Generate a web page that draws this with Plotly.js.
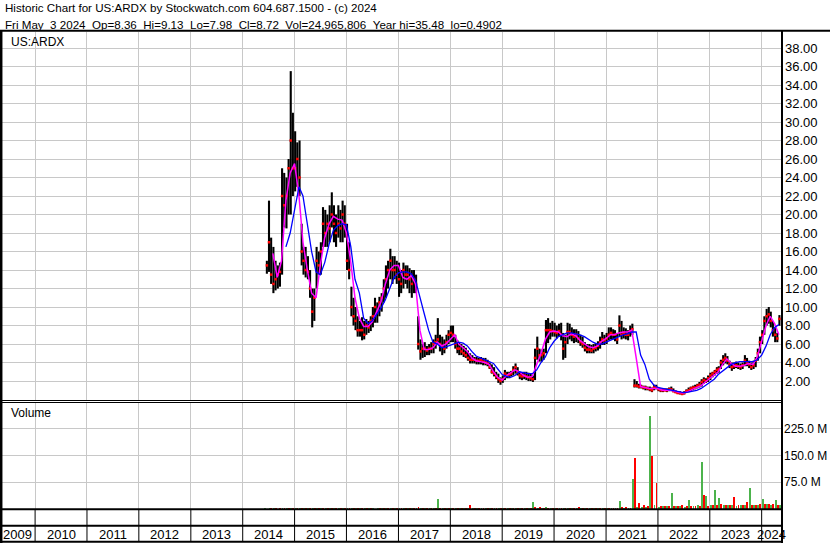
<!DOCTYPE html>
<html><head><meta charset="utf-8">
<script src="https://cdn.plot.ly/plotly-3.0.1.min.js"></script>
<style>html,body{margin:0;padding:0;background:#fff;}#chart{width:830px;height:543px;}</style>
</head><body><div id="chart"></div>
<script>
// ---------- text ----------
const symbol = 'US:ARDX';
const titleLine1 = 'Historic Chart for US:ARDX by Stockwatch.com 604.687.1500 - (c) 2024';
const titleParts = ['Fri May', '3 2024', 'Op=8.36', 'Hi=9.13', 'Lo=7.98', 'Cl=8.72', 'Vol=24,965,806', 'Year hi=35.48', 'lo=0.4902'];
const years = [2009,2010,2011,2012,2013,2014,2015,2016,2017,2018,2019,2020,2021,2022,2023,2024];
const priceTicks = [2,4,6,8,10,12,14,16,18,20,22,24,26,28,30,32,34,36,38];
const volTicks = [75,150,225];
const volTickText = ['75.0 M','150.0 M','225.0 M'];

// ---------- price, half-monthly from 2nd half of June 2014 ----------
const firstHalfMonth = {year: 2014, month: 6, half: 2};
const priceHigh = [
  15.0,21.5,17.5,16.5,15.0,14.5,14.8,25.0,24.5,24.0,26.0,35.5,31.0,
  29,27.8,28,19,16.5,16.5,15.5,14,12,12,16.5,16,17,20.8,20.5,20,21,22.4,21,20,21,20.5,21.5,21,
  19,17,12.2,11,10,9,8.5,8.9,8.5,8.7,8.5,9.0,10,11,10.5,11.1,11.5,13,14.5,15,16.3,15.5,15.5,15,
  14.8,14,14.8,14.5,14.5,14.2,14,14,13.5,9,6.5,6.0,6.2,5.8,6.0,6.2,6.5,7.0,8.8,7.0,6.8,6.5,7.0,7.5,
  8.0,8.0,7.0,6.4,6.2,6.0,5.8,5.6,5.3,5.0,4.8,4.6,4.6,4.5,4.6,4.5,4.5,4.3,4.0,3.8,3.5,3.0,2.8,2.4,
  2.6,3.2,3.0,3.0,3.1,3.6,3.9,3.5,3.0,2.9,3.0,3.0,2.9,2.8,2.6,5.5,6.8,5.5,5.4,5.5,8.6,8.8,8.3,8.5,
  8.3,8.0,8.2,8.3,7.2,7.0,8.3,8.2,7.8,7.6,7.6,7.4,7.0,6.8,6.2,6.0,6.0,5.9,6.0,6.1,6.3,6.8,7.3,7.0,
  7.2,7.8,7.8,7.6,7.5,7.2,9.1,8.5,7.8,7.7,7.5,8.0,8.2,2.2,2.0,1.7,1.6,1.5,1.5,1.4,1.4,1.3,1.6,1.6,
  1.3,1.2,1.2,1.2,1.2,1.3,1.4,1.2,1.0,0.9,0.9,0.8,0.9,1.1,1.3,1.4,1.5,1.6,1.7,1.9,2.2,2.4,2.3,2.6,
  2.9,3.0,3.2,3.5,3.6,4.3,4.8,5.0,4.7,4.2,4.0,4.0,4.1,4.0,3.9,4.0,4.8,4.5,4.2,4.0,4.2,4.6,5.5,6.8,
  7.5,9.0,9.8,10.0,9.5,8.5,7.8,7.2,9.13
];
const priceLow = [
  13.6,13.8,12.5,11.5,11.8,12.0,12.2,13.5,18.6,18.5,20.0,20.0,22.0,
  22.5,23,22,14.5,13.5,13.2,13,11,7.8,8.5,12,13.5,13.5,16.5,16.5,16.5,17,18.6,17,16.5,17.5,17,17,17.5,
  14,13,9,8,7.5,6.8,6.8,6.4,6.5,7.0,7.2,7.4,7.8,8.3,8.3,9,9.5,10.5,11,12,13,12.5,13,12.5,
  11.1,11.5,12,12.5,12,11.5,11,11.5,11.5,5.4,4.3,4.5,4.6,4.8,4.8,5.0,5.0,5.5,6.0,5.2,4.8,5.0,5.5,6.0,
  6.2,6.2,5.5,5.0,4.8,4.8,4.6,4.5,4.2,3.9,3.9,3.9,3.8,3.8,3.8,3.7,3.7,3.6,3.3,2.8,2.5,2.2,1.8,1.6,
  1.8,2.1,2.3,2.3,2.5,2.6,2.8,2.6,2.2,2.1,2.2,2.1,2.0,2.0,1.9,2.1,4.3,4.1,4.1,4.3,5.0,6.1,6.5,6.8,
  6.8,6.6,6.8,6.4,4.3,4.5,6.0,6.5,6.3,6.1,6.2,6.1,5.8,5.6,5.2,5.0,5.0,5.0,5.0,5.2,5.3,5.5,5.9,5.9,
  6.0,6.4,6.5,6.5,6.3,6.0,6.8,6.5,6.6,6.5,6.4,6.8,7.0,1.3,1.3,1.2,1.2,1.1,1.0,1.0,0.9,0.8,1.0,1.1,
  0.9,0.8,0.8,0.9,0.8,0.9,0.9,0.8,0.7,0.6,0.55,0.49,0.55,0.7,0.8,0.9,1.0,1.1,1.2,1.3,1.4,1.7,1.8,1.9,
  2.1,2.4,2.6,2.8,2.9,3.3,3.7,3.9,3.8,3.4,3.1,3.3,3.4,3.3,3.2,3.3,3.6,3.6,3.4,3.2,3.3,3.5,4.2,5.0,
  6.0,7.0,8.0,8.2,7.8,6.8,6.2,6.2,7.98
];
const priceClose = [
  14.5,17.0,13.5,12.5,13.0,13.5,13.8,22.0,21.0,22.0,25.0,28.0,25.0,
  25,26,24,16,15,14,13.8,12,9.5,11,15,14.5,16,19,18,19,18.5,20,19,18,19,18.5,20,19,
  15,14,10,9,8.5,7.5,7.5,7.5,7.0,8,7.8,8.5,9,10,9.5,10.5,11,12,13,14,15,14,14,13.5,
  13,12.5,14,13.5,13.5,13,12.5,13,12.5,6.0,5.2,5.5,5.5,5.3,5.5,5.5,6,6.2,6.5,6,5.8,5.5,6.2,7.0,
  7.2,7.0,6.0,5.5,5.5,5.2,5.0,4.8,4.5,4.3,4.3,4.3,4.2,4.2,4.3,4.1,4.0,3.9,3.5,3.0,2.8,2.5,2.2,2.0,
  2.2,2.8,2.6,2.7,2.8,3.2,3.5,3.0,2.6,2.5,2.6,2.5,2.4,2.3,2.2,4.5,5.5,4.8,4.8,5.0,7.5,7.5,7.5,7.4,
  7.3,7.2,7.4,7.0,5.5,6.2,7.3,7.3,7.0,6.8,7.0,6.6,6.2,6.0,5.6,5.4,5.4,5.3,5.5,5.6,5.8,6.2,6.5,6.4,
  6.6,7.0,7.2,7.0,7.0,6.5,8.0,7.0,7.2,7.0,7.0,7.4,7.6,1.5,1.5,1.4,1.4,1.3,1.3,1.2,1.1,1.0,1.3,1.3,
  1.1,1.0,1.0,1.0,1.0,1.1,1.1,0.9,0.8,0.7,0.7,0.6,0.7,0.9,1.0,1.2,1.3,1.3,1.5,1.6,1.9,2.1,2.0,2.3,
  2.6,2.8,3.0,3.2,3.3,4.0,4.3,4.5,4.2,3.8,3.5,3.6,3.7,3.6,3.5,3.7,4.2,4.0,3.8,3.5,3.7,4.2,5.0,6.2,
  7.0,8.5,9.0,9.2,8.5,7.5,7.0,6.6,8.72
];

// ---------- moving averages & volume, monthly from June 2014 ----------
const firstMonth = {year: 2014, month: 6};
const maShort = [
  null,null,15.8,13.2,15.0,21.5,24.5,
  25.5,22.0,17.0,14.0,11.5,11.0,14.5,17.5,19.0,19.8,19.5,19.4,
  18.0,14.8,11.0,8.8,7.9,7.9,8.4,9.5,10.6,12.5,14.0,14.5,
  14.5,13.2,13.0,13.4,12.5,7.5,5.4,5.4,5.6,6.2,5.8,6.0,
  6.5,7.0,6.0,5.6,5.2,4.5,4.2,4.1,4.0,3.8,3.0,2.4,
  2.1,2.6,2.9,3.2,3.0,2.6,2.4,2.5,3.8,5.0,6.5,7.3,
  7.4,7.3,6.9,6.8,7.1,6.9,6.4,6.0,5.7,5.6,5.8,6.3,
  6.6,7.0,7.0,7.2,7.3,7.3,7.5,4.5,1.4,1.3,1.2,1.2,
  1.2,1.0,1.0,1.0,0.9,0.75,0.7,0.85,1.1,1.3,1.5,1.9,
  2.3,2.7,3.0,3.8,4.4,3.9,3.6,3.6,3.7,3.9,3.8,4.6,
  6.2,8.0,9.0,8.2,7.0
];
const maLong = [
  null,null,null,null,null,16.5,18.0,
  20.5,23.0,22.0,19.0,16.0,13.8,13.5,14.8,16.8,18.3,18.8,19.0,
  18.9,16.5,13.0,11.5,8.8,8.2,8.5,9.2,9.9,10.8,12.0,13.2,
  13.7,13.8,13.8,13.6,12.9,11.2,9.3,7.5,6.2,6.0,5.6,5.7,
  5.9,6.1,6.2,6.1,5.8,5.2,4.7,4.5,4.3,4.1,3.9,3.3,
  2.7,2.5,2.4,2.6,3.0,2.9,2.8,2.8,3.2,4.0,4.6,5.6,
  6.3,6.8,7.0,7.2,7.2,7.1,7.0,6.8,6.5,6.2,6.0,6.0,
  6.2,6.4,6.6,6.8,7.0,7.1,7.3,7.3,4.8,3.8,2.2,1.6,
  1.3,1.2,1.1,1.0,0.95,0.85,0.75,0.8,0.9,1.0,1.2,1.5,
  1.8,2.2,2.7,3.1,3.5,3.8,4.0,4.1,4.1,4.1,4.1,4.3,
  4.8,5.8,7.0,7.8,8.1
];
// volume in millions (up days green, down days red)
const volUp = [
  1.5,3,1.5,1,2.5,2,4,
  3,2,2,2,2,1.5,2,2,1.5,2,1.5,1.5,
  2,2,1.5,2,1.5,1.5,1.5,1.5,2,2,2,1.5,
  1.5,1.5,1.5,1.5,1.5,2,1.5,1.5,2,28,2,1.5,
  2,1.5,1.5,1.5,1.5,1.5,1.5,1.5,1.5,1.5,2,1.5,
  2,2,2,2,1.5,1.5,1.5,20,3,2,6,3,
  2,2,3,2.5,2,2,2,2,2,2,2,2,
  3,3,3,22,4,4,84,6,5,6,260,10,
  6,8,7,45,8,8,6,25,8,10,131,36,
  10,53,30,12,10,10,9,12,12,58,10,12,
  28,14,12,25,12
];
const volDown = [
  1,2.5,2,1.5,2,3,3,
  2.5,3,2,2,3,1.5,1.5,2,2,2,1.5,2,
  3,3,2,1.5,2,1.5,1,1.5,1.5,2,2,2,
  2,1.5,1.5,2,6,3,2,1.5,1.5,4,2,1.5,
  2,1.5,1.5,1.5,11,1.5,1.5,1.5,2,2,2,2.5,
  2.5,2,2,1.5,2,2,2,6,5,2,2,3,
  2,2.5,3.5,2.5,2,5,2,2,2,2,2.5,2,
  4,4,3.5,6,5,4,142,17,10,8,148,72,
  8,7,8,7,8,10,8,8,7,8,39,8,
  10,12,14,12,10,33,12,10,20,12,10,14,
  14,15,14,12,8
];

// ---------- helpers ----------
const pad = n => String(n).padStart(2, '0');
function halfMonthDates(start, n) {
  let y = start.year, m = start.month, h = start.half;
  const out = [];
  for (let i = 0; i < n; i++) {
    out.push(`${y}-${pad(m)}-${h === 1 ? '05' : '20'}`);
    if (h === 1) { h = 2; } else { h = 1; m++; if (m > 12) { m = 1; y++; } }
  }
  return out;
}
function monthDates(start, n, day) {
  let y = start.year, m = start.month;
  const out = [];
  for (let i = 0; i < n; i++) {
    out.push(`${y}-${pad(m)}-${pad(day)}`);
    m++; if (m > 12) { m = 1; y++; }
  }
  return out;
}
const W = 830, H = 543;
const px = x => x / W;
const py = y => 1 - y / H;

const priceDates = halfMonthDates(firstHalfMonth, priceHigh.length);
const maDates = monthDates(firstMonth, maShort.length, 1);
const volUpDates = monthDates(firstMonth, volUp.length, 8);
const volDownDates = monthDates(firstMonth, volDown.length, 22);

// high-low bars as vertical segments
const segX = [], segY = [];
priceDates.forEach((d, i) => { segX.push(d, d, null); segY.push(priceLow[i], priceHigh[i], null); });

const DAY = 86400000;
const traces = [
  {type:'scatter', mode:'lines', x:segX, y:segY, line:{color:'#000', width:2.1}, xaxis:'x', yaxis:'y', hoverinfo:'skip'},
  {type:'scatter', mode:'markers', x:priceDates, y:priceClose, marker:{symbol:'square', size:2.5, color:'#ff0000'}, xaxis:'x', yaxis:'y', hoverinfo:'skip'},
  {type:'scatter', mode:'lines', x:maDates, y:maShort, line:{color:'#ff00ff', width:1.5}, xaxis:'x', yaxis:'y', hoverinfo:'skip'},
  {type:'scatter', mode:'lines', x:maDates, y:maLong, line:{color:'#0000ff', width:1.3}, xaxis:'x', yaxis:'y', hoverinfo:'skip'},
  {type:'bar', x:volUpDates, y:volUp, width:13*DAY, marker:{color:'#4cb34c', line:{width:0}}, xaxis:'x', yaxis:'y2', hoverinfo:'skip'},
  {type:'bar', x:volDownDates, y:volDown, width:13*DAY, marker:{color:'#ff0000', line:{width:0}}, xaxis:'x', yaxis:'y2', hoverinfo:'skip'}
];

const rangeStart = '2009-04-29', rangeEnd = '2024-05-16';
const font = '"Liberation Sans", Arial, sans-serif';

const annotations = [
  {xref:'paper', yref:'paper', x:px(3), y:py(8), xanchor:'left', yanchor:'middle', showarrow:false, text:titleLine1, font:{size:11.6}},
  {xref:'paper', yref:'paper', x:px(3), y:py(24), xanchor:'left', yanchor:'middle', showarrow:false, text:titleParts.join('\u00a0\u00a0'), font:{size:11.6}},
  {xref:'paper', yref:'paper', x:px(9), y:py(42), xanchor:'left', yanchor:'middle', showarrow:false, text:symbol, font:{size:12}},
  {xref:'paper', yref:'paper', x:px(9), y:py(413), xanchor:'left', yanchor:'middle', showarrow:false, text:'Volume', font:{size:12}}
];
years.forEach(yr => {
  const a = Math.max(Date.parse(yr + '-01-01'), Date.parse(rangeStart));
  const b = Math.min(Date.parse((yr + 1) + '-01-01'), Date.parse(rangeEnd));
  const mid = new Date((a + b) / 2).toISOString().slice(0, 19).replace('T', ' ');
  annotations.push({xref:'x', yref:'paper', x:mid, y:py(534), xanchor:'center', yanchor:'middle', showarrow:false, text:String(yr), font:{size:13}});
});

const black = {color:'#000', width:2};
const thin = {color:'#000', width:1};
const shapes = [
  {type:'line', xref:'paper', yref:'paper', x0:0, x1:1, y0:py(30.7), y1:py(30.7), line:black},
  {type:'line', xref:'paper', yref:'paper', x0:px(1.2), x1:px(1.2), y0:py(30), y1:0, line:{color:'#000', width:2.5}},
  {type:'line', xref:'paper', yref:'paper', x0:px(782), x1:px(782), y0:py(30), y1:0, line:black},
  {type:'line', xref:'paper', yref:'paper', x0:0, x1:px(782), y0:py(400.5), y1:py(400.5), line:thin},
  {type:'line', xref:'paper', yref:'paper', x0:0, x1:px(782), y0:py(402.5), y1:py(402.5), line:thin},
  {type:'line', xref:'paper', yref:'paper', x0:0, x1:px(782), y0:py(509.3), y1:py(509.3), line:black},
  {type:'line', xref:'paper', yref:'paper', x0:0, x1:px(782), y0:py(525.8), y1:py(525.8), line:black},
  {type:'line', xref:'paper', yref:'paper', x0:0, x1:px(782), y0:py(541.7), y1:py(541.7), line:black}
];
years.slice(1).forEach(yr => {
  shapes.push({type:'line', xref:'x', yref:'paper', x0:yr + '-01-01', x1:yr + '-01-01', y0:py(541.7), y1:py(509.3), line:thin});
});

const layout = {
  width:W, height:H, margin:{l:0, r:0, t:0, b:0},
  paper_bgcolor:'#fff', plot_bgcolor:'#fff', showlegend:false, barmode:'overlay', bargap:0,
  font:{family:font, size:12, color:'#000'},
  xaxis:{type:'date', domain:[0, px(781)], range:[rangeStart, rangeEnd], anchor:'y',
    showgrid:true, gridcolor:'#c8c8c8', gridwidth:1, dtick:'M12', tick0:'2010-01-01',
    showticklabels:false, ticks:'', zeroline:false, showline:false},
  yaxis:{domain:[py(400), py(32)], range:[-0.05, 39.73], anchor:'x', side:'right',
    tickmode:'array', tickvals:priceTicks, ticktext:priceTicks.map(v => v.toFixed(2)),
    showgrid:true, gridcolor:'#c8c8c8', gridwidth:1, zeroline:false, showline:false, ticks:'',
    tickfont:{size:13, color:'#000'}, ticklabelstandoff:3},
  yaxis2:{domain:[py(509), py(402)], range:[0, 299], anchor:'x', side:'right',
    tickmode:'array', tickvals:volTicks, ticktext:volTickText,
    showgrid:true, gridcolor:'#c8c8c8', gridwidth:1, zeroline:false, showline:false, ticks:'',
    tickfont:{size:12, color:'#000'}, ticklabelstandoff:2},
  annotations:annotations, shapes:shapes
};

Plotly.newPlot('chart', traces, layout, {staticPlot:true, displayModeBar:false});
</script>
</body></html>
